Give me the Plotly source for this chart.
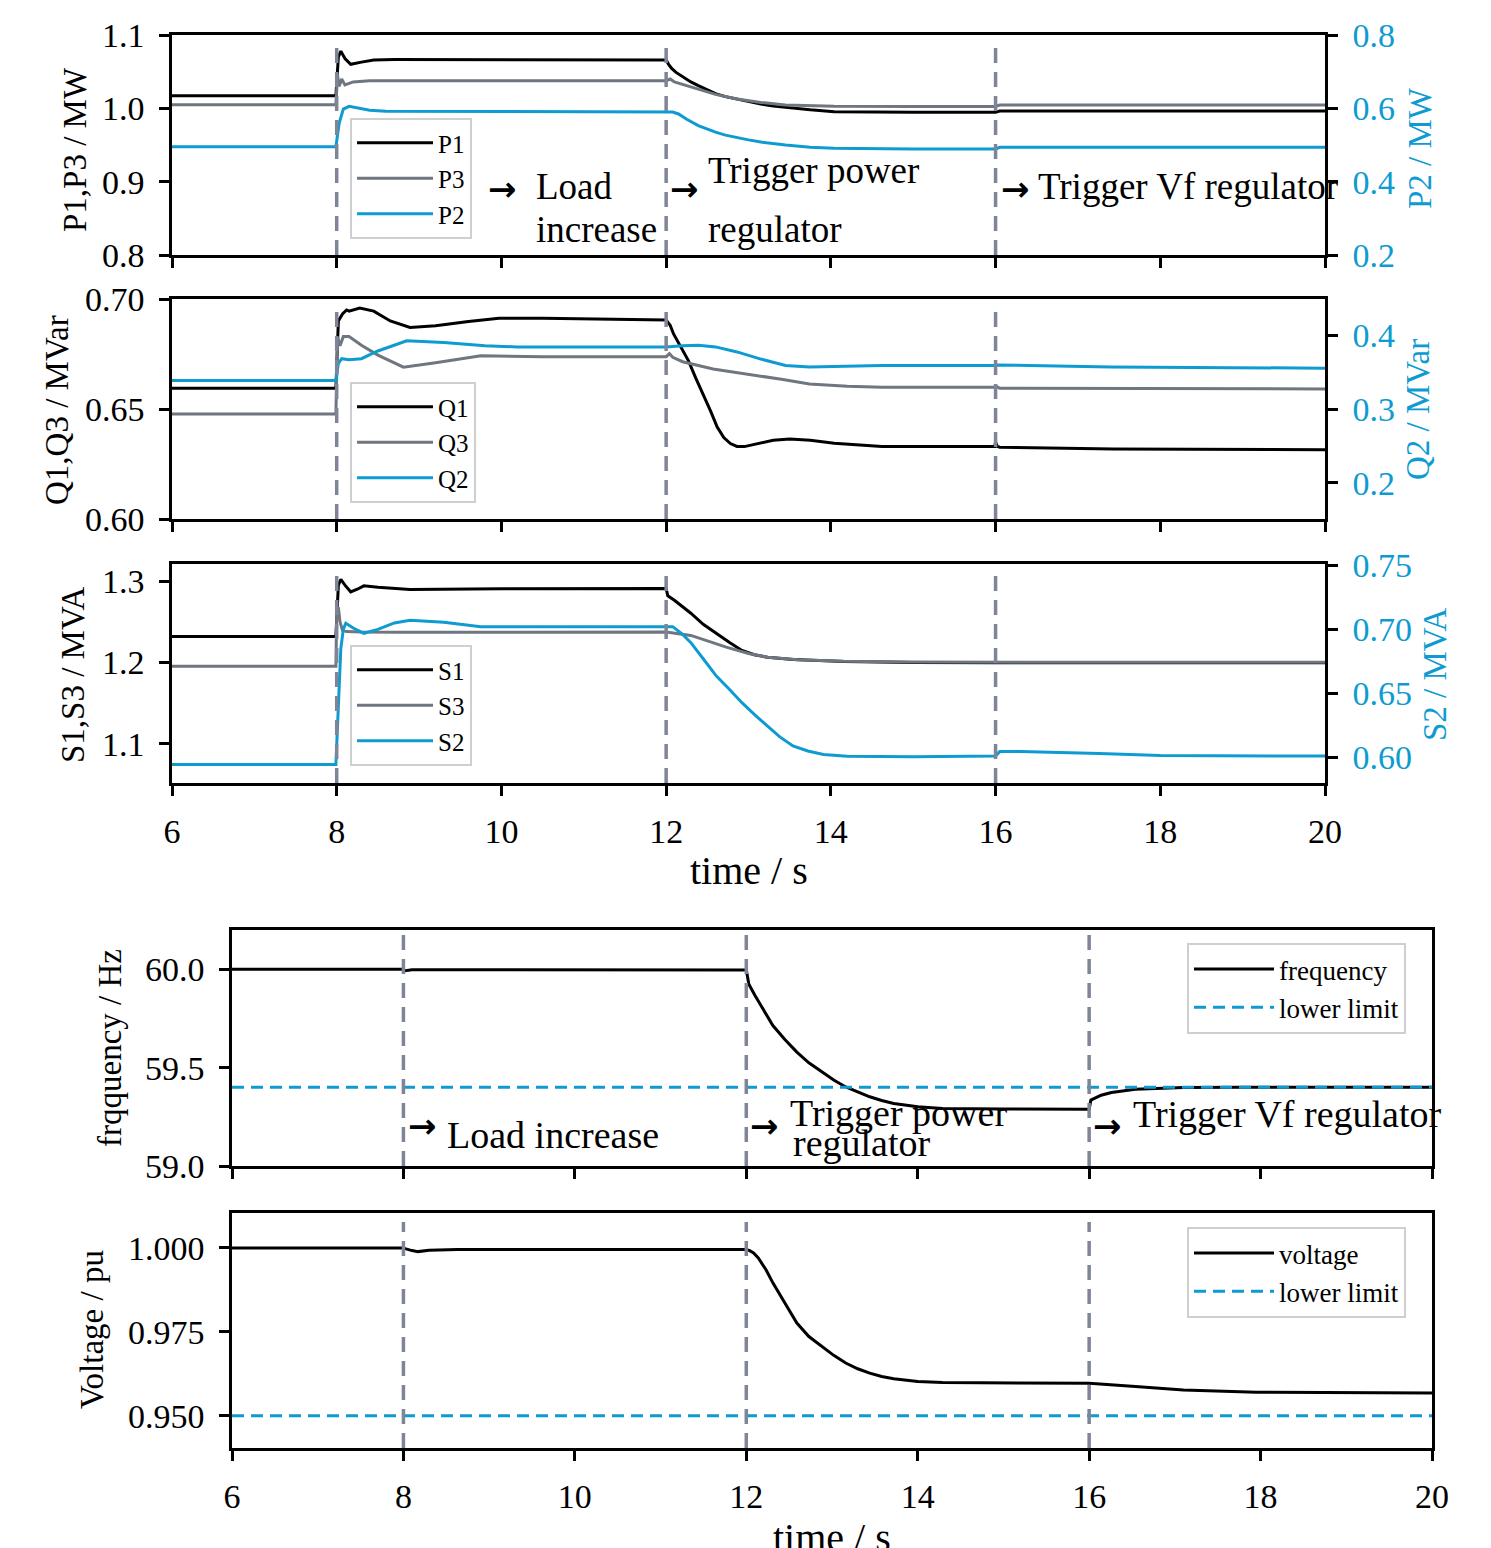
import plotly.graph_objects as go

W, H = 1491, 1548


def pxx(x):
    return x / W


def pyy(y):
    return 1 - y / H


# ---------------- data ----------------
event_times = [8, 12, 16]
x_ticks = [6, 8, 10, 12, 14, 16, 18, 20]

P1_t = [6, 7.99, 8.02, 8.05, 8.1, 8.17, 8.3, 8.45, 8.7, 12.0, 12.03, 12.07, 12.12, 12.2, 12.3, 12.39, 12.5, 12.6, 12.72, 12.86, 13.0, 13.15, 13.3, 13.45, 13.75, 14.04, 14.5, 15.0, 16.0, 16.05, 20]
P1_v = [1.017, 1.017, 1.070, 1.078, 1.068, 1.060, 1.063, 1.066, 1.0665, 1.066, 1.060, 1.054, 1.049, 1.043, 1.036, 1.031, 1.025, 1.020, 1.016, 1.0125, 1.009, 1.006, 1.003, 1.001, 0.998, 0.9955, 0.995, 0.9947, 0.9946, 0.9962, 0.9964]
P3_t = [6, 7.99, 8.01, 8.03, 8.06, 8.1, 8.2, 8.4, 12.0, 12.05, 12.1, 12.25, 12.39, 12.6, 12.86, 13.15, 13.45, 13.75, 14.04, 15, 16.0, 16.05, 20]
P3_v = [1.005, 1.005, 1.045, 1.030, 1.040, 1.032, 1.036, 1.0377, 1.0377, 1.040, 1.036, 1.031, 1.0264, 1.019, 1.0127, 1.008, 1.0045, 1.0033, 1.0027, 1.0025, 1.0025, 1.0045, 1.0045]
P2_t = [6, 7.99, 8.03, 8.08, 8.15, 8.25, 8.4, 8.6, 12.0, 12.08, 12.15, 12.25, 12.39, 12.5, 12.6, 12.72, 12.86, 13.0, 13.15, 13.3, 13.45, 13.75, 14.04, 15, 16.0, 16.05, 20]
P2_v = [0.495, 0.495, 0.560, 0.598, 0.6056, 0.602, 0.595, 0.592, 0.592, 0.590, 0.5846, 0.570, 0.5527, 0.543, 0.535, 0.527, 0.520, 0.514, 0.508, 0.503, 0.500, 0.494, 0.491, 0.489, 0.489, 0.4937, 0.4937]

Q1_t = [6, 7.99, 8.02, 8.07, 8.12, 8.15, 8.28, 8.45, 8.65, 8.89, 9.2, 9.6, 9.97, 10.5, 12.0, 12.05, 12.09, 12.18, 12.27, 12.36, 12.45, 12.54, 12.62, 12.7, 12.78, 12.86, 12.95, 13.1, 13.3, 13.5, 13.75, 14.04, 14.62, 15.99, 16.0, 16.02, 16.05, 17.43, 20]
Q1_v = [0.6594, 0.6594, 0.690, 0.6932, 0.6950, 0.6945, 0.6959, 0.6945, 0.690, 0.6871, 0.6878, 0.6898, 0.6912, 0.6912, 0.6905, 0.6880, 0.6841, 0.6780, 0.672, 0.664, 0.6568, 0.649, 0.6418, 0.637, 0.6343, 0.633, 0.6329, 0.634, 0.6358, 0.6364, 0.6358, 0.6344, 0.633, 0.633, 0.635, 0.633, 0.6326, 0.6318, 0.6315]
Q3_t = [6, 7.99, 8.01, 8.04, 8.08, 8.15, 8.3, 8.5, 8.81, 9.2, 9.75, 10.5, 12.0, 12.04, 12.08, 12.2, 12.57, 12.98, 13.4, 13.74, 14.2, 14.62, 15.99, 16.0, 16.05, 20]
Q3_v = [0.6477, 0.6477, 0.6827, 0.6788, 0.6829, 0.6829, 0.679, 0.6745, 0.669, 0.671, 0.6742, 0.6738, 0.6738, 0.6752, 0.6735, 0.6715, 0.6682, 0.666, 0.6635, 0.6614, 0.6603, 0.6599, 0.6599, 0.6605, 0.6594, 0.6591]
Q2_t = [6, 7.99, 8.02, 8.06, 8.15, 8.3, 8.5, 8.85, 9.3, 9.8, 10.19, 12.0, 12.2, 12.39, 12.6, 12.86, 13.15, 13.45, 13.74, 14.2, 14.62, 16.0, 16.02, 17.4, 20]
Q2_v = [0.3388, 0.3388, 0.362, 0.3685, 0.367, 0.3685, 0.3790, 0.3927, 0.3905, 0.3860, 0.3845, 0.3845, 0.3860, 0.3867, 0.3845, 0.3777, 0.368, 0.3594, 0.3571, 0.3578, 0.3594, 0.3594, 0.3600, 0.3571, 0.3557]

S1_t = [6, 7.99, 8.02, 8.05, 8.1, 8.17, 8.25, 8.33, 8.5, 8.89, 10, 12.0, 12.02, 12.1, 12.2, 12.3, 12.45, 12.61, 12.77, 12.92, 13.07, 13.23, 13.54, 14.16, 15, 16, 20]
S1_v = [1.2321, 1.2321, 1.295, 1.302, 1.295, 1.2868, 1.290, 1.2942, 1.2925, 1.2897, 1.2905, 1.291, 1.282, 1.2765, 1.2685, 1.2605, 1.247, 1.2354, 1.2245, 1.2148, 1.2095, 1.2066, 1.2037, 1.2012, 1.2, 1.1996, 1.1996]
S3_t = [6, 7.99, 8.0, 8.02, 8.04, 8.07, 8.12, 8.3, 8.7, 12.0, 12.3, 12.5, 12.73, 13.0, 13.23, 13.6, 14.16, 15, 16, 20]
S3_v = [1.1955, 1.1955, 1.26, 1.268, 1.25, 1.2395, 1.238, 1.2374, 1.2372, 1.2374, 1.2333, 1.2265, 1.2189, 1.211, 1.2066, 1.2035, 1.2015, 1.2005, 1.2003, 1.2003]
S2_t = [6, 7.99, 8.02, 8.05, 8.08, 8.11, 8.2, 8.33, 8.5, 8.7, 8.89, 9.3, 9.75, 10.5, 12.0, 12.08, 12.2, 12.3, 12.45, 12.61, 12.77, 12.92, 13.08, 13.23, 13.38, 13.54, 13.72, 13.91, 14.2, 15, 16.0, 16.05, 16.3, 17.26, 18, 20]
S2_v = [0.5945, 0.5945, 0.640, 0.685, 0.700, 0.7047, 0.701, 0.6969, 0.700, 0.705, 0.7070, 0.7055, 0.7021, 0.7021, 0.7021, 0.7021, 0.696, 0.6896, 0.677, 0.6635, 0.653, 0.6427, 0.633, 0.6245, 0.616, 0.6089, 0.605, 0.6023, 0.6008, 0.6005, 0.601, 0.6045, 0.6045, 0.6031, 0.6015, 0.601]

F_t = [6, 7.99, 8.02, 8.1, 12.0, 12.03, 12.1, 12.17, 12.24, 12.31, 12.45, 12.59, 12.73, 12.88, 13.02, 13.16, 13.3, 13.44, 13.58, 13.72, 14.0, 14.29, 15, 16.0, 16.02, 16.14, 16.26, 16.54, 17.1, 17.8, 20]
F_v = [60.0, 60.0, 59.993, 59.998, 59.997, 59.924, 59.868, 59.815, 59.762, 59.714, 59.643, 59.579, 59.525, 59.478, 59.437, 59.402, 59.375, 59.352, 59.333, 59.318, 59.301, 59.293, 59.29, 59.289, 59.335, 59.36, 59.374, 59.39, 59.399, 59.401, 59.401]
F_limit = 59.4

V_t = [6, 7.99, 8.1, 8.17, 8.3, 8.63, 12.0, 12.04, 12.085, 12.14, 12.23, 12.31, 12.45, 12.59, 12.73, 12.88, 13.02, 13.16, 13.3, 13.44, 13.58, 13.72, 14.0, 14.29, 15, 16.0, 16.54, 17.1, 17.95, 19, 20]
V_v = [1.0, 1.0, 0.9992, 0.9989, 0.9993, 0.9995, 0.9995, 0.9992, 0.9985, 0.997, 0.9935, 0.9896, 0.9836, 0.9776, 0.9736, 0.9707, 0.968, 0.9657, 0.964, 0.9627, 0.9617, 0.961, 0.9602, 0.9599, 0.9598, 0.9597, 0.9587, 0.9577, 0.957, 0.9568, 0.9568]
V_limit = 0.95

# ---------------- style ----------------
BLACK = "#000000"
GRAY = "#6f7680"
BLUE = "#0e9bd1"
VLINE = "#7e8597"
FONT = "Liberation Serif, Times New Roman, serif"
ARROW_FONT = "DejaVu Sans"
TICKF = 34
LW = 3

fig = go.Figure()


def add(t, v, name, color, xa, ya, legend, dash=None):
    fig.add_trace(go.Scatter(x=t, y=v, name=name, mode="lines",
                             line=dict(color=color, width=LW, dash=dash),
                             xaxis=xa, yaxis=ya, legend=legend))


add(P1_t, P1_v, "P1", BLACK, "x", "y", "legend")
add(P3_t, P3_v, "P3", GRAY, "x", "y", "legend")
add(P2_t, P2_v, "P2", BLUE, "x", "y2", "legend")
add(Q1_t, Q1_v, "Q1", BLACK, "x2", "y3", "legend2")
add(Q3_t, Q3_v, "Q3", GRAY, "x2", "y3", "legend2")
add(Q2_t, Q2_v, "Q2", BLUE, "x2", "y4", "legend2")
add(S1_t, S1_v, "S1", BLACK, "x3", "y5", "legend3")
add(S3_t, S3_v, "S3", GRAY, "x3", "y5", "legend3")
add(S2_t, S2_v, "S2", BLUE, "x3", "y6", "legend3")
add(F_t, F_v, "frequency", BLACK, "x4", "y7", "legend4")
add([6, 20], [F_limit, F_limit], "lower limit", BLUE, "x4", "y7", "legend4", dash="12px,7px")
add(V_t, V_v, "voltage", BLACK, "x5", "y8", "legend5")
add([6, 20], [V_limit, V_limit], "lower limit", BLUE, "x5", "y8", "legend5", dash="12px,7px")

TOP_X = [pxx(172), pxx(1325)]
BOT_X = [pxx(232), pxx(1432)]
doms = {
    1: [pyy(255), pyy(35)],
    2: [pyy(519), pyy(299)],
    3: [pyy(783), pyy(564)],
    4: [pyy(1166), pyy(930)],
    5: [pyy(1448), pyy(1213)],
}

axis_common = dict(showgrid=False, zeroline=False, showline=True, linecolor="black", linewidth=2.5,
                   ticks="outside", ticklen=10, tickwidth=2.5, tickcolor="black",
                   tickfont=dict(family=FONT, size=TICKF, color="black"))


def xax(domain, anchor, labels):
    d = dict(axis_common)
    d.update(domain=domain, anchor=anchor, range=[6, 20], tickvals=x_ticks, showticklabels=labels,
             mirror=True, ticklabelstandoff=6)
    return d


def yax(domain, anchor, rng, tv, fmt, mirror):
    d = dict(axis_common)
    d.update(domain=domain, anchor=anchor, range=rng, tickvals=tv, tickformat=fmt, mirror=mirror,
             ticklabelstandoff=8)
    return d


def yright(overlay, anchor, rng, tv, fmt):
    d = dict(axis_common)
    d.update(overlaying=overlay, anchor=anchor, side="right", range=rng, tickvals=tv, tickformat=fmt,
             ticklabelstandoff=8)
    d["tickfont"] = dict(family=FONT, size=TICKF, color=BLUE)
    return d


layout = dict(
    width=W, height=H, margin=dict(l=0, r=0, t=0, b=0, autoexpand=False),
    plot_bgcolor="white", paper_bgcolor="white",
    font=dict(family=FONT, color="black"),
    xaxis=xax(TOP_X, "y", False),
    xaxis2=xax(TOP_X, "y3", False),
    xaxis3=xax(TOP_X, "y5", True),
    xaxis4=xax(BOT_X, "y7", False),
    xaxis5=xax(BOT_X, "y8", True),
    yaxis=yax(doms[1], "x", [0.8, 1.1], [0.8, 0.9, 1.0, 1.1], ".1f", False),
    yaxis2=yright("y", "x", [0.2, 0.8], [0.2, 0.4, 0.6, 0.8], ".1f"),
    yaxis3=yax(doms[2], "x2", [0.60, 0.70], [0.60, 0.65, 0.70], ".2f", False),
    yaxis4=yright("y3", "x2", [0.151, 0.4495], [0.2, 0.3, 0.4], ".1f"),
    yaxis5=yax(doms[3], "x3", [1.052, 1.321], [1.1, 1.2, 1.3], ".1f", False),
    yaxis6=yright("y5", "x3", [0.580, 0.751], [0.60, 0.65, 0.70, 0.75], ".2f"),
    yaxis7=yax(doms[4], "x4", [59.0, 60.2], [59.0, 59.5, 60.0], ".1f", True),
    yaxis8=yax(doms[5], "x5", [0.9404, 1.0104], [0.950, 0.975, 1.000], ".3f", True),
    showlegend=True,
)

leg_common = dict(bgcolor="rgba(255,255,255,0.85)", bordercolor="#cfcfcf", borderwidth=2,
                  xanchor="left", yanchor="top", tracegroupgap=0)
layout["legend"] = dict(leg_common, x=pxx(350), y=pyy(118), itemwidth=76, font=dict(family=FONT, size=25))
layout["legend2"] = dict(leg_common, x=pxx(350), y=pyy(382), itemwidth=76, font=dict(family=FONT, size=25))
layout["legend3"] = dict(leg_common, x=pxx(350), y=pyy(645), itemwidth=76, font=dict(family=FONT, size=25))
layout["legend4"] = dict(leg_common, x=pxx(1187), y=pyy(943), itemwidth=80, font=dict(family=FONT, size=27))
layout["legend5"] = dict(leg_common, x=pxx(1187), y=pyy(1227), itemwidth=80, font=dict(family=FONT, size=27))

fig.update_layout(**layout)

# vertical event lines
shapes = []
for xr, yr, top in [("x", "y domain", 0.96), ("x2", "y3 domain", 0.965), ("x3", "y5 domain", 0.965),
                    ("x4", "y7 domain", 1.0), ("x5", "y8 domain", 0.962)]:
    for t in event_times:
        shapes.append(dict(type="line", xref=xr, yref=yr, x0=t, x1=t, y0=0, y1=top, layer="above",
                           line=dict(color=VLINE, width=3.5, dash="15px,9px")))
fig.update_layout(shapes=shapes)

ann = []


def text(x, y, s, size, color="black", angle=0, xanchor="left", family=FONT):
    ann.append(dict(xref="paper", yref="paper", x=pxx(x), y=pyy(y), text=s, showarrow=False,
                    xanchor=xanchor, yanchor="middle", textangle=angle,
                    font=dict(family=family, size=size, color=color)))


ARROW = "<b>→</b>"
AS = 34
# panel 1 event texts
text(486, 189, ARROW, AS, family=ARROW_FONT)
text(534, 186, "Load", 37)
text(534, 230, "increase", 37)
text(668, 189, ARROW, AS, family=ARROW_FONT)
text(706, 171, "Trigger power", 37)
text(706, 230, "regulator", 37)
text(999, 189, ARROW, AS, family=ARROW_FONT)
text(1036, 186, "Trigger Vf regulator", 37)
# panel 4 event texts
text(406, 1126, ARROW, AS, family=ARROW_FONT)
text(445, 1135, "Load increase", 38)
text(748, 1126, ARROW, AS, family=ARROW_FONT)
text(788, 1113, "Trigger power", 38)
text(791, 1143, "regulator", 38)
text(1091, 1126, ARROW, AS, family=ARROW_FONT)
text(1131, 1114, "Trigger Vf regulator", 38)

# axis titles
text(75, 150, "P1,P3 / MW", 33, angle=-90, xanchor="center")
text(57, 410, "Q1,Q3 / MVar", 33, angle=-90, xanchor="center")
text(73, 675, "S1,S3 / MVA", 33, angle=-90, xanchor="center")
text(1420, 148, "P2 / MW", 33, color=BLUE, angle=-90, xanchor="center")
text(1418, 410, "Q2 / MVar", 33, color=BLUE, angle=-90, xanchor="center")
text(1435, 675, "S2 / MVA", 33, color=BLUE, angle=-90, xanchor="center")
text(749, 870, "time / s", 40, xanchor="center")
text(110, 1048, "frqquency / Hz", 33, angle=-90, xanchor="center")
text(92, 1330, "Voltage / pu", 33, angle=-90, xanchor="center")
text(832, 1537, "time / s", 40, xanchor="center")
fig.update_layout(annotations=ann)

fig.write_html("out.html", config={"displayModeBar": False},
               post_script="document.body.style.margin='0';document.body.style.overflow='hidden';")
